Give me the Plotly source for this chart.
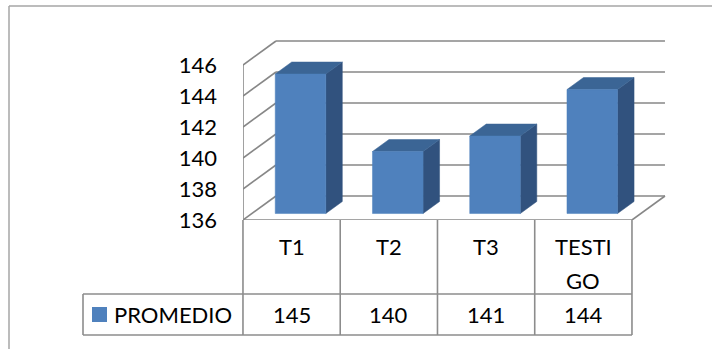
import plotly.graph_objects as go

# ---- data ----
categories = ["T1", "T2", "T3", "TESTIGO"]
promedio = [145, 140, 141, 144]
series_name = "PROMEDIO"
y_ticks = [136, 138, 140, 142, 144, 146]

# ---- layout geometry (pixels) ----
W, H = 712, 349
L, R, T, B = 243, 677, 30, 220          # plot area edges
X0, XU = 291.6, 97.25                   # px of category 0, px per category
YU = 15.5                               # px per value unit
VMIN = y_ticks[0]

# depth offsets of the pseudo-3D box, in data units
DX = 33 / XU
DY = 24 / YU
BAR_W = 0.52
D0, D1 = 0.27, 0.77                      # bar front/back depth fractions

FRONT = "#4F81BD"
TOP = "#3B6595"
SIDE = "#31527E"
GRID = "#878787"
FONT = "Lato"
FS = 22


def x_of_px(px):
    return (px - X0) / XU


def ypaper(py):
    return (B - py) / (B - T)


def xpaper(px):
    return (px - L) / (R - L)


def xpaper_of_data(x):
    return xpaper(X0 + XU * x)


fig = go.Figure()


def add_line(xs, ys, color=GRID, width=1.6):
    fig.add_trace(go.Scatter(x=xs, y=ys, mode="lines", hoverinfo="skip",
                             line=dict(color=color, width=width),
                             showlegend=False))


def add_poly(xs, ys, color):
    fig.add_trace(go.Scatter(x=xs + [xs[0]], y=ys + [ys[0]], mode="lines",
                             fill="toself", fillcolor=color,
                             line=dict(color=color, width=0.5),
                             hoverinfo="skip", showlegend=False))


n = len(categories)
xl, xr = -0.5, n - 0.5
vmax = y_ticks[-1]

# walls: back-wall gridlines and left-wall diagonals
for v in y_ticks:
    add_line([xl + DX, xr + DX], [v + DY, v + DY])
    add_line([xl, xl + DX], [v, v + DY])
# left wall front edge
add_line([xl, xl], [VMIN, vmax])
# floor front and right edges
add_line([xl, xr], [VMIN, VMIN])
add_line([xr, xr + DX], [VMIN, VMIN + DY])

# bars
for i, v in enumerate(promedio):
    a = i - BAR_W / 2
    b = i + BAR_W / 2
    f0x, f0y = D0 * DX, D0 * DY
    f1x, f1y = D1 * DX, D1 * DY
    # side face
    add_poly([b + f0x, b + f0x, b + f1x, b + f1x],
             [VMIN + f0y, v + f0y, v + f1y, VMIN + f1y], SIDE)
    # top face
    add_poly([a + f0x, b + f0x, b + f1x, a + f1x],
             [v + f0y, v + f0y, v + f1y, v + f1y], TOP)
    # front face
    add_poly([a + f0x, b + f0x, b + f0x, a + f0x],
             [VMIN + f0y, VMIN + f0y, v + f0y, v + f0y], FRONT)

shapes = []
annotations = []

# data table below the floor
row_top, row_mid, row_bot = 220, 294, 335
legend_left = 83
tcol = "#8C8C8C"
tline = dict(color=tcol, width=1.6)
for k in range(n + 1):
    xk = xpaper_of_data(xl + k)
    shapes.append(dict(type="line", xref="paper", yref="paper", x0=xk, x1=xk,
                       y0=ypaper(row_top), y1=ypaper(row_bot), line=tline))
for row in (row_mid, row_bot):
    shapes.append(dict(type="line", xref="paper", yref="paper",
                       x0=xpaper(legend_left), x1=xpaper_of_data(xr),
                       y0=ypaper(row), y1=ypaper(row), line=tline))
shapes.append(dict(type="line", xref="paper", yref="paper",
                   x0=xpaper(legend_left), x1=xpaper(legend_left),
                   y0=ypaper(row_mid), y1=ypaper(row_bot), line=tline))
# legend key
shapes.append(dict(type="rect", xref="paper", yref="paper",
                   x0=xpaper(92), x1=xpaper(107),
                   y0=ypaper(307), y1=ypaper(322),
                   fillcolor=FRONT, line=dict(width=0)))
annotations.append(dict(x=xpaper(112), y=ypaper(314), xref="paper",
                        yref="paper", text=series_name, showarrow=False,
                        xanchor="left", yanchor="middle",
                        font=dict(family=FONT, size=FS, color="black")))


def wrap(label, width=5):
    return [label[j:j + width] for j in range(0, len(label), width)]


for i, (c, v) in enumerate(zip(categories, promedio)):
    for j, part in enumerate(wrap(c)):
        annotations.append(dict(x=xpaper_of_data(i), y=ypaper(246 + 34 * j),
                                xref="paper", yref="paper", text=part,
                                showarrow=False, xanchor="center",
                                yanchor="middle",
                                font=dict(family=FONT, size=FS, color="black")))
    annotations.append(dict(x=xpaper_of_data(i), y=ypaper(314), xref="paper",
                            yref="paper", text=f"{v:.0f}", showarrow=False,
                            xanchor="center", yanchor="middle",
                            font=dict(family=FONT, size=FS, color="black")))

# chart area border (top and left visible)
shapes.append(dict(type="line", xref="paper", yref="paper",
                   x0=xpaper(9), x1=xpaper(W + 5), y0=ypaper(6), y1=ypaper(6),
                   line=dict(color="#A6A6A6", width=1.5)))
shapes.append(dict(type="line", xref="paper", yref="paper",
                   x0=xpaper(9), x1=xpaper(9), y0=ypaper(6), y1=ypaper(H + 5),
                   line=dict(color="#A6A6A6", width=1.5)))

fig.update_layout(
    width=W, height=H, autosize=False,
    margin=dict(l=L, r=W - R, t=T, b=H - B, autoexpand=False),
    paper_bgcolor="white", plot_bgcolor="white",
    showlegend=False,
    xaxis=dict(range=[x_of_px(L), x_of_px(R)], visible=False, fixedrange=True),
    yaxis=dict(range=[VMIN, VMIN + (B - T) / YU], tickvals=y_ticks,
               ticktext=[str(t) for t in y_ticks], showgrid=False,
               zeroline=False, showline=False, ticks="",
               ticklabelstandoff=25,
               tickfont=dict(family=FONT, size=FS, color="black"),
               fixedrange=True),
    shapes=shapes,
    annotations=annotations,
)

fig.write_html("out.html")
